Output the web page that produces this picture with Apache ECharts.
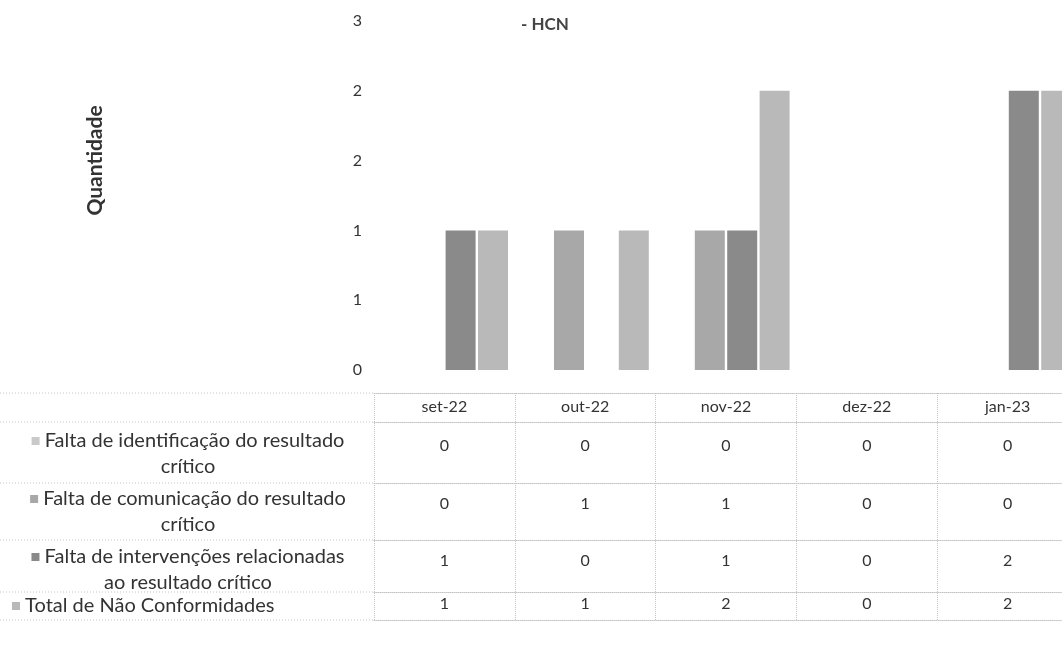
<!DOCTYPE html>
<html>
<head>
<meta charset="utf-8">
<script src="https://cdn.jsdelivr.net/npm/echarts@6/dist/echarts.min.js"></script>
<style>html,body{margin:0;padding:0;background:#fff}#c{width:1062px;height:650px}</style>
</head>
<body>
<div id="c"></div>
<script>
const categories = ['set-22', 'out-22', 'nov-22', 'dez-22', 'jan-23'];
const seriesNames = [
  'Falta de identificação do resultado crítico',
  'Falta de comunicação do resultado crítico',
  'Falta de intervenções relacionadas ao resultado crítico',
  'Total de Não Conformidades'
];
const rowHeaders = [
  'Falta de identificação do resultado\ncrítico',
  'Falta de comunicação do resultado\ncrítico',
  'Falta de intervenções relacionadas\nao resultado crítico',
  'Total de Não Conformidades'
];
const identificacao = [0, 0, 0, 0, 0];
const comunicacao = [0, 1, 1, 0, 0];
const intervencoes = [1, 0, 1, 0, 2];
const total = [1, 1, 2, 0, 2];
const yMin = 0, yMax = 2.5, yStep = 0.5;
const title = '- HCN';
const yName = 'Quantidade';

const values = [identificacao, comunicacao, intervencoes, total];
const colors = ['#c9c9c9', '#a8a8a8', '#8a8a8a', '#b9b9b9'];
const FONT = 'Lato, "Open Sans", sans-serif';
const TXT = '#333';
const dotted = { color: '#c4c4c4', type: 'dotted', width: 1 };

// table layout (pixels below plot bottom)
const rowLayout = [
  { offset: 52, margin: 16, pad: 6, align: 'center', gap: 186 },
  { offset: 113, margin: 13, pad: 3, align: 'center', gap: 186 },
  { offset: 170, margin: 13, pad: 4, align: 'center', gap: 186 },
  { offset: 222, margin: 4, pad: 1, align: 'left', gap: 362 }
];

const xAxes = [{
  type: 'category', data: categories, gridIndex: 0, position: 'bottom', offset: 23,
  axisLine: { show: true, onZero: false, lineStyle: dotted },
  axisTick: { show: true, length: 227, lineStyle: dotted },
  axisLabel: { color: TXT, fontSize: 16, fontFamily: FONT, margin: 6 }
}];
rowLayout.forEach((r, i) => {
  xAxes.push({
    type: 'category', data: values[i].map(String), gridIndex: 0, position: 'bottom', offset: r.offset,
    axisLine: { show: true, onZero: false, lineStyle: dotted },
    axisTick: { show: false },
    axisLabel: { color: TXT, fontSize: 16, fontFamily: FONT, margin: r.margin },
    name: '{sq|}' + rowHeaders[i].split('\n').map((l, k) => k === 0 ? ' ' + l : l).join('\n'),
    nameLocation: 'start', nameGap: r.gap,
    nameTextStyle: {
      color: TXT, fontSize: 20, fontFamily: FONT, lineHeight: 26,
      align: r.align, verticalAlign: 'top', padding: [r.pad, 0, 0, 0],
      rich: { sq: { width: 8, height: 8, backgroundColor: colors[i] } }
    }
  });
});
xAxes.push({
  type: 'category', data: categories.map(() => ''), gridIndex: 0, position: 'bottom', offset: 250,
  axisLine: { show: true, onZero: false, lineStyle: dotted }, axisTick: { show: false }, axisLabel: { show: false }
});

const chart = echarts.init(document.getElementById('c'), null, { renderer: 'canvas' });
const borderYs = [393, 422, 483, 540, 592, 620];
chart.setOption({
  animation: false,
  backgroundColor: '#fff',
  title: {
    text: title, left: 540, top: 11, textAlign: 'center',
    textStyle: { color: '#444', fontSize: 17, fontWeight: 'bold', fontFamily: FONT }
  },
  grid: { left: 374, right: -16, top: 21, bottom: 280, containLabel: false, outerBoundsMode: 'none' },
  xAxis: xAxes,
  yAxis: {
    type: 'value', min: yMin, max: yMax, interval: yStep,
    axisLine: { show: false }, axisTick: { show: false }, splitLine: { show: false },
    axisLabel: { color: TXT, fontSize: 16, fontFamily: FONT, margin: 12, formatter: v => String(Math.round(v)) },
    name: yName, nameLocation: 'middle', nameGap: 268, nameRotate: 90,
    nameTextStyle: { color: TXT, fontSize: 21, fontWeight: 'bold', fontFamily: FONT, padding: [0, 0, 0, 70] }
  },
  graphic: borderYs.map(y => ({
    type: 'line', shape: { x1: 0, y1: y, x2: 374, y2: y }, style: { stroke: '#c4c4c4', lineDash: [1, 2], lineWidth: 1 }
  })),
  series: values.map((d, i) => ({
    name: seriesNames[i], type: 'bar', data: d, xAxisIndex: 0, yAxisIndex: 0,
    barWidth: 30, barGap: '8%',
    itemStyle: { color: colors[i] }
  }))
});
</script>
</body>
</html>
